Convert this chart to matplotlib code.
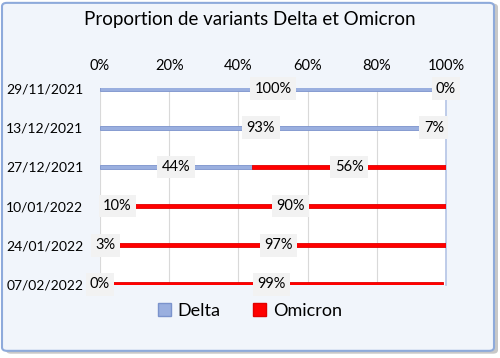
import matplotlib
matplotlib.use("Agg")
import matplotlib.pyplot as plt
from matplotlib.patches import FancyBboxPatch, Rectangle

dates = ["29/11/2021", "13/12/2021", "27/12/2021", "10/01/2022", "24/01/2022", "07/02/2022"]
delta = [100, 93, 44, 10, 3, 0]
omicron = [0, 7, 56, 90, 97, 99]
xticks = [0, 20, 40, 60, 80, 100]
xtick_labels = ["0%", "20%", "40%", "60%", "80%", "100%"]

plt.rcParams['font.family'] = ['Lato', 'DejaVu Sans']

fig = plt.figure(figsize=(5.0, 3.58), dpi=100)
fig.patch.set_facecolor("white")

# frame with shadow
shadow = FancyBboxPatch((0.012, 0.012), 0.984, 0.978, boxstyle="round,pad=0,rounding_size=0.01",
                        transform=fig.transFigure, facecolor="#c8c8c8", edgecolor="none", zorder=0)
frame = FancyBboxPatch((0.004, 0.02), 0.984, 0.972, boxstyle="round,pad=0,rounding_size=0.01",
                       transform=fig.transFigure, facecolor="#f1f5fb", edgecolor="#8eaadb", linewidth=1.5, zorder=1)
fig.patches.extend([shadow, frame])

ax = fig.add_axes([0.2, 1 - 285/358, (446-100)/500, (285-88)/358])
ax.set_facecolor("white")
ax.set_zorder(2)

y = list(range(len(dates)))
ax.barh(y, delta, height=0.09, color="#9aafdf", edgecolor="#7b93cc", linewidth=0.6, zorder=3)
ax.barh(y, omicron, left=delta, height=0.09, color="#ff0000", edgecolor="#e00000", linewidth=0.6, zorder=3)

bbox = dict(boxstyle="square,pad=0.3", facecolor="#f2f2f2", edgecolor="none")
for i in y:
    ax.text(delta[i] / 2, i, f"{delta[i]}%", ha="center", va="center", fontsize=10.5, bbox=bbox, zorder=5)
    ax.text(delta[i] + omicron[i] / 2 if omicron[i] > 0 else 100, i, f"{omicron[i]}%",
            ha="center", va="center", fontsize=10.5, bbox=bbox, zorder=5)

ax.set_xlim(0, 100)
ax.set_ylim(len(dates) - 1 + 0.02, -0.02)
ax.set_xticks(xticks)
ax.set_xticklabels(xtick_labels, fontsize=10.5)
ax.xaxis.tick_top()
ax.tick_params(axis="x", length=0, pad=11)
ax.set_yticks(y)
ax.set_yticklabels(dates, fontsize=10)
ax.tick_params(axis="y", length=0, pad=12)
ax.grid(axis="x", color="#d9d9d9", linewidth=0.8, zorder=0)
ax.set_axisbelow(True)
for s in ["top", "bottom", "left"]:
    ax.spines[s].set_visible(False)
ax.spines["right"].set_color("#b4c4e6")
ax.spines["right"].set_linewidth(1.2)

fig.text(0.5, 1 - 20/358, "Proportion de variants Delta et Omicron", ha="center", va="center", fontsize=13.5, zorder=5)

handles = [Rectangle((0, 0), 1, 1, facecolor="#9aafdf", edgecolor="#7b93cc"),
           Rectangle((0, 0), 1, 1, facecolor="#ff0000", edgecolor="#e00000")]
fig.legend(handles, ["Delta", "Omicron"], loc="center", bbox_to_anchor=(0.5, 1 - 311/358),
           ncol=2, frameon=False, fontsize=13, handlelength=0.7, handleheight=0.7,
           columnspacing=1.8, handletextpad=0.4)

fig.savefig("out.png", dpi=100, facecolor=fig.get_facecolor())
